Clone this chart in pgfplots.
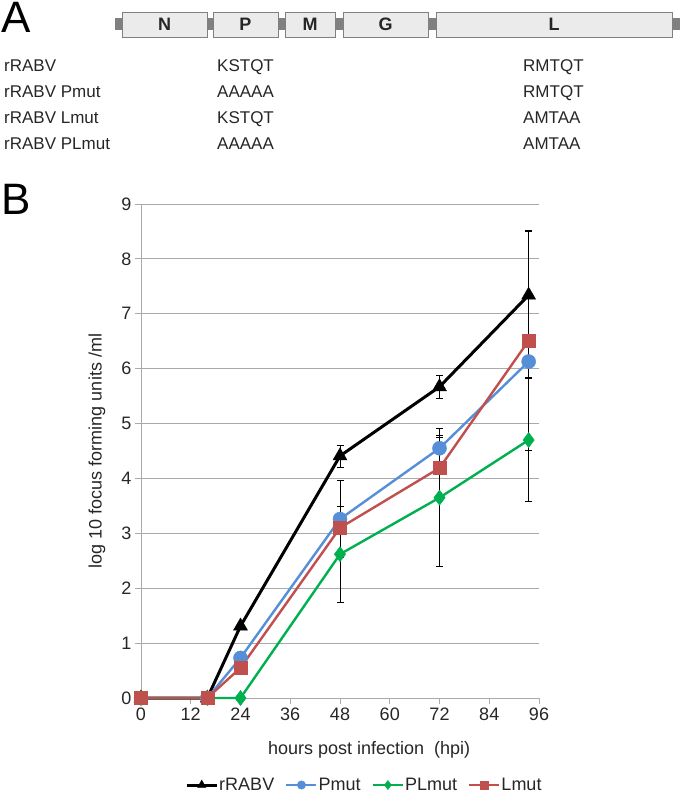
\documentclass[border=0pt]{standalone}
\usepackage{fontspec}
\setmainfont{Liberation Sans}
\usepackage{pgfplots}
\usepackage{pgfplotstable}
\pgfplotsset{compat=1.18}
\definecolor{cblue}{RGB}{86,142,216}
\definecolor{cgreen}{RGB}{0,176,80}
\definecolor{cred}{RGB}{192,80,77}
\definecolor{cgrid}{RGB}{170,170,170}
\definecolor{cbox}{RGB}{235,235,235}
\definecolor{cbar}{RGB}{128,128,128}
\newcommand{\fs}[1]{\fontsize{#1}{#1}\selectfont}

\pgfplotstableread{
x y e
0 0 0
16 0 0
24 1.31 0
48 4.41 0.2
72 5.67 0.21
93.5 7.34 1.18
}\rrabv
\pgfplotstableread{
x y e
0 0 0
16 0 0
24 0.73 0
48 3.26 0.7
72 4.55 0.24
93.5 6.13 0.28
}\pmut
\pgfplotstableread{
x y e
0 0 0
16 0 0
24 0 0
48 2.62 0.87
72 3.65 1.26
93.5 4.70 1.12
}\plmut
\pgfplotstableread{
x y e
0 0 0
16 0 0
24 0.55 0
48 3.10 0.1
72 4.19 0.55
93.5 6.51 2.0
}\lmut

\begin{document}
\begin{tikzpicture}[x=1pt,y=1pt]
\path[use as bounding box] (0,0) rectangle (680,-795);
% ---------- panel A ----------
\node[anchor=north west, inner sep=0, font=\fs{44}] at (1,-2) {A};
\fill[cbar] (115,-18) rectangle (680,-30);
\foreach \a/\b/\t in {122/207/N, 213/278/P, 285/335/M, 343/428/G, 436/672/L}{
  \draw[cbar, fill=cbox, line width=0.8] (\a,-12) rectangle (\b,-37);
  \node[font=\bfseries\fs{18}, text=black!85] at ({(\a+\b)/2},-24.5) {\t};
}
\foreach \y/\n/\p/\l in {71/rRABV/KSTQT/RMTQT, 97.5/rRABV Pmut/AAAAA/RMTQT, 123.5/rRABV Lmut/KSTQT/AMTAA, 149/rRABV PLmut/AAAAA/AMTAA}{
  \node[anchor=base west, inner sep=0, font=\fs{17}, text=black!85] at (4,-\y) {\n};
  \node[anchor=base west, inner sep=0, font=\fs{17}, text=black!85] at (217,-\y) {\p};
  \node[anchor=base west, inner sep=0, font=\fs{17}, text=black!85] at (523,-\y) {\l};
}
% ---------- panel B ----------
\node[anchor=north west, inner sep=0, font=\fs{44}] at (1,-184) {B};
\begin{axis}[
  scale only axis, width=398pt, height=494pt,
  at={(141pt,-698pt)}, anchor=south west,
  xmin=0, xmax=96, ymin=0, ymax=9,
  xtick={0,12,...,96}, ytick={0,1,...,9},
  axis x line*=bottom, axis y line*=left,
  axis line style={cgrid, line width=1pt, -},
  ymajorgrids, major grid style={cgrid, line width=1pt},
  tick align=outside, major tick length=6pt,
  tick style={cgrid, line width=1pt},
  ticklabel style={font=\fs{18}, text=black!85},
  /pgf/number format/assume math mode=true,
  clip=false,
  xlabel={hours post infection\ \ (hpi)},
  xlabel style={at={(axis description cs:0.573,0)}, anchor=center, yshift=-52pt, font=\fs{18}, text=black!85},
  ylabel={log 10 focus forming units /ml},
  ylabel style={at={(axis description cs:-0.1106,0.5)}, anchor=center, font=\fs{18}, text=black!85},
  legend columns=4,
  legend style={at={(axis description cs:0.56,0)}, anchor=center, yshift=-87pt, draw=none, font=\fs{18},
    text=black!85, /tikz/every even column/.append style={column sep=10pt},
    nodes={inner sep=1pt}},
  legend image code/.code={\draw[mark repeat=2, mark phase=2, every mark/.append style={scale=0.6}] plot coordinates {(0pt,0pt) (15pt,0pt) (30pt,0pt)};},
  error bars/error bar style={black, line width=0.8pt},
  error bars/error mark options={rotate=90, black, mark size=3.5pt, line width=0.8pt},
]
\addplot[black, line width=3pt, mark=triangle*, mark size=8pt, mark options={solid, fill=black, line width=0.5pt},
  error bars/.cd, y dir=both, y explicit] table[x=x, y=y, y error=e] {\rrabv};
\addlegendentry{rRABV}
\addplot[cblue, line width=2.4pt, mark=*, mark size=7pt, mark options={solid, fill=cblue, line width=0.5pt},
  error bars/.cd, y dir=both, y explicit] table[x=x, y=y, y error=e] {\pmut};
\addlegendentry{Pmut}
\addplot[cgreen, line width=2.4pt, mark=diamond*, mark size=7.5pt, mark options={solid, fill=cgreen, line width=0.5pt},
  error bars/.cd, y dir=both, y explicit] table[x=x, y=y, y error=e] {\plmut};
\addlegendentry{PLmut}
\addplot[cred, line width=2.4pt, mark=square*, mark size=6.5pt, mark options={solid, fill=cred, line width=0.5pt},
  error bars/.cd, y dir=both, y explicit] table[x=x, y=y, y error=e] {\lmut};
\addlegendentry{Lmut}
\end{axis}
\end{tikzpicture}
\end{document}
